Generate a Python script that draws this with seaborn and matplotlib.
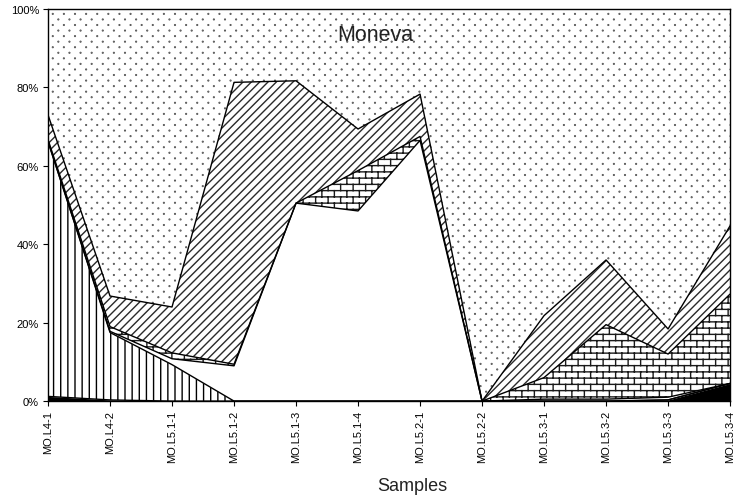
import numpy as np
import pandas as pd
import matplotlib
matplotlib.use("Agg")
import matplotlib.pyplot as plt
import seaborn as sns
from matplotlib import hatch as mhatch
from matplotlib.path import Path

# ---------------- data (percent of each sample) ----------------
samples = ["MO.L4-1", "MO.L4-2", "MO.L5.1-1", "MO.L5.1-2", "MO.L5.1-3", "MO.L5.1-4",
           "MO.L5.2-1", "MO.L5.2-2", "MO.L5.3-1", "MO.L5.3-2", "MO.L5.3-3", "MO.L5.3-4"]
solid_black = [1.2, 0.3, 0.0, 0.0, 0.0, 0.0, 0.0, 0.0, 0.0, 0.0, 0.3, 4.5]
vertical    = [65.0, 17.2, 9.3, 0.0, 0.0, 0.0, 0.0, 0.0, 0.0, 0.0, 0.0, 0.0]
blank       = [0.0, 0.3, 1.5, 9.0, 50.5, 48.5, 66.5, 0.0, 0.5, 0.5, 0.7, 0.0]
brick       = [0.5, 1.2, 1.5, 0.4, 0.0, 10.3, 1.0, 0.0, 5.5, 19.0, 11.0, 22.8]
diagonal    = [6.3, 7.8, 11.7, 71.9, 31.2, 10.6, 10.8, 0.0, 15.8, 16.5, 6.4, 17.4]
dotted      = [27.0, 73.2, 76.0, 18.7, 18.3, 30.6, 21.7, 100.0, 78.2, 64.0, 81.6, 55.3]
y_ticks = [0, 20, 40, 60, 80, 100]
y_tick_labels = ["0%", "20%", "40%", "60%", "80%", "100%"]
title_text = "Moneva"
x_label = "Samples"


# ---------------- custom hatch patterns ----------------
class BrickHatch(mhatch.HatchPatternBase):
    """Brick pattern, used for '-'."""
    def __init__(self, hatch, density):
        self.rows = 16 if hatch.count('-') else 0
        self.cols = 8
        if self.rows == 0:
            self.num_vertices = 0
        else:
            self.num_vertices = 2 * self.rows + 2 * (self.rows + 1) * self.cols

    def set_vertices_and_codes(self, vertices, codes):
        n, m = self.rows, self.cols
        k = 0
        for i in range(n):
            y = (i + 0.5) / n
            vertices[k] = (0.0, y); codes[k] = Path.MOVETO; k += 1
            vertices[k] = (1.0, y); codes[k] = Path.LINETO; k += 1
        segs = []
        for i in range(1, n):
            segs.append(((i - 0.5) / n, (i + 0.5) / n, i % 2))
        segs.append((0.0, 0.5 / n, 0))
        segs.append(((n - 0.5) / n, 1.0, 0))
        for y0, y1, par in segs:
            off = 0.5 / m if par else 0.0
            for j in range(m):
                xx = (j + 0.25) / m + off
                vertices[k] = (xx, y0); codes[k] = Path.MOVETO; k += 1
                vertices[k] = (xx, y1); codes[k] = Path.LINETO; k += 1


class VLineHatch(mhatch.HatchPatternBase):
    """Vertical lines, used for '|'."""
    def __init__(self, hatch, density):
        self.num_lines = int(hatch.count('|') * 7)
        self.num_vertices = self.num_lines * 2

    def set_vertices_and_codes(self, vertices, codes):
        steps = (np.arange(self.num_lines) + 0.5) / self.num_lines
        vertices[0::2, 0] = steps
        vertices[0::2, 1] = 0.0
        vertices[1::2, 0] = steps
        vertices[1::2, 1] = 1.0
        codes[0::2] = Path.MOVETO
        codes[1::2] = Path.LINETO


class DotHatch(mhatch.HatchPatternBase):
    """Sparse staggered dots, used for '.'."""
    def __init__(self, hatch, density):
        c = hatch.count('.')
        self.rows = 18 if c else 0
        self.cols = 9
        circ = Path.unit_circle()
        self.shape_vertices = circ.vertices
        self.shape_codes = circ.codes
        self.num_vertices = self.rows * self.cols * len(circ.vertices)

    def set_vertices_and_codes(self, vertices, codes):
        r = 0.0035
        L = len(self.shape_vertices)
        k = 0
        for i in range(self.rows):
            y = (i + 0.5) / self.rows
            off = 0.5 / self.cols if i % 2 else 0.0
            for j in range(self.cols):
                xx = (j + 0.25) / self.cols + off
                vertices[k:k + L] = self.shape_vertices * r + (xx, y)
                codes[k:k + L] = self.shape_codes
                k += L


for idx, t in enumerate(list(mhatch._hatch_types)):
    if t is mhatch.HorizontalHatch:
        mhatch._hatch_types[idx] = BrickHatch
    elif t is mhatch.VerticalHatch:
        mhatch._hatch_types[idx] = VLineHatch
    elif t is mhatch.SmallFilledCircles:
        mhatch._hatch_types[idx] = DotHatch

# ---------------- style ----------------
sns.set_style("ticks")
plt.rcParams['font.family'] = ['Liberation Sans', 'DejaVu Sans']
plt.rcParams['hatch.linewidth'] = 1.0

fig = plt.figure(figsize=(7.33, 5.02), dpi=100)
ax = fig.add_axes([0.0655, 0.199, 0.9305, 0.781])

x = np.arange(len(samples))
layers = [solid_black, vertical, blank, brick, diagonal, dotted]
styles = [
    dict(facecolor="black", hatch=None, edgecolor="black"),
    dict(facecolor="white", hatch="||", edgecolor="black"),
    dict(facecolor="white", hatch=None, edgecolor="black"),
    dict(facecolor="white", hatch="-", edgecolor="#1a1a1a"),
    dict(facecolor="white", hatch="////", edgecolor="#2a2a2a"),
    dict(facecolor="white", hatch=".", edgecolor="#444444"),
]
arr = np.array(layers, dtype=float)
cum = np.cumsum(arr, axis=0)
lower = np.vstack([np.zeros(len(samples)), cum[:-1]])

for i, st in enumerate(styles):
    ax.fill_between(x, lower[i], cum[i], linewidth=0, **st)

# boundary lines drawn with seaborn
rows = []
for i in range(len(layers) - 1):
    for xi, yi in zip(x, cum[i]):
        rows.append({"x": xi, "y": yi, "b": f"b{i}"})
df = pd.DataFrame(rows)
sns.lineplot(data=df, x="x", y="y", hue="b", palette=["black"] * (len(layers) - 1),
             legend=False, linewidth=1.0, ax=ax, estimator=None, sort=False)

ax.set_xlim(0, len(samples) - 1)
ax.set_ylim(0, 100)
ax.set_xticks(x)
ax.set_xticklabels(samples, rotation=90, fontsize=8)
ax.set_yticks(y_ticks)
ax.set_yticklabels(y_tick_labels, fontsize=8)
ax.set_xlabel("")
ax.set_ylabel("")
ax.tick_params(axis="both", direction="out", length=3.5, width=0.8, color="black",
               labelcolor="black", pad=3)
for s in ax.spines.values():
    s.set_visible(True)
    s.set_color("black")
    s.set_linewidth(1.0)

ax.text(0.48, 0.934, title_text, transform=ax.transAxes, ha="center", va="center",
        fontsize=15.5, color="#222222")
fig.text(412 / 733, 1 - 487 / 502, x_label, ha="center", va="center", fontsize=13,
         color="#222222")

fig.savefig("out.png", dpi=100)
